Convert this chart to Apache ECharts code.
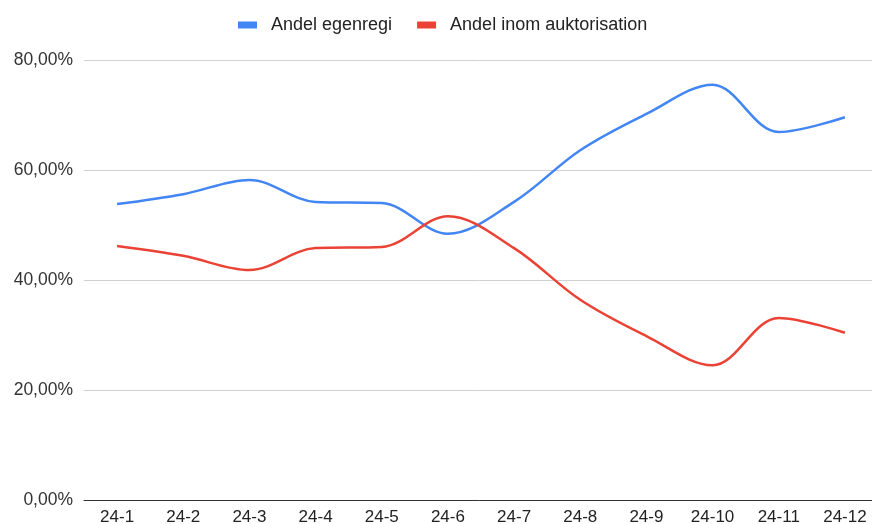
<!DOCTYPE html>
<html>
<head>
<meta charset="utf-8">
<script src="https://cdn.jsdelivr.net/npm/echarts@6/dist/echarts.min.js"></script>
<style>
  html, body { margin: 0; padding: 0; background: #fff; }
  #main { width: 872px; height: 524px; }
</style>
</head>
<body>
<div id="main"></div>
<script>
// månader
const months = ['24-1', '24-2', '24-3', '24-4', '24-5', '24-6', '24-7', '24-8', '24-9', '24-10', '24-11', '24-12'];
// andelar i procent
const egenregi = [53.8, 55.6, 58.2, 54.2, 54.0, 48.4, 54.2, 63.6, 70.2, 75.5, 66.9, 69.6];
const auktorisation = [46.2, 44.4, 41.8, 45.8, 46.0, 51.6, 45.8, 36.4, 29.8, 24.5, 33.1, 30.4];
const seriesNames = ['Andel egenregi', 'Andel inom auktorisation'];

const myChart = echarts.init(document.getElementById('main'));

function pct(v) {
    return v.toFixed(2).replace('.', ',') + '%';
}

const option = {
    animation: false,
    color: ['#4285f4', '#ea4335'],
    textStyle: { fontFamily: '"Liberation Sans", Arial, sans-serif' },
    legend: {
        top: 11,
        left: 233,
        itemWidth: 19,
        itemHeight: 7,
        itemGap: 25,
        icon: 'rect',
        textStyle: { fontSize: 18, color: '#222', padding: [0, 0, 0, 9] },
        data: seriesNames
    },
    grid: {
        top: 60,
        left: 84,
        width: 794,
        bottom: 24,
        containLabel: false,
        outerBoundsMode: 'none'
    },
    xAxis: {
        type: 'category',
        data: months,
        boundaryGap: true,
        axisLine: { show: true, lineStyle: { color: '#333', width: 1 } },
        axisTick: { show: false },
        axisLabel: { fontSize: 17, color: '#222', margin: 9, interval: 0 }
    },
    yAxis: {
        type: 'value',
        min: 0,
        max: 80,
        interval: 20,
        axisLine: { show: false },
        axisTick: { show: false },
        axisLabel: { fontSize: 17.5, color: '#333', margin: 11, formatter: pct },
        splitLine: { lineStyle: { color: '#d0d0d0', width: 1 } }
    },
    series: [{
        name: seriesNames[0],
        type: 'line',
        data: egenregi,
        smooth: 0.35,
        symbol: 'none',
        lineStyle: { width: 2.5 }
    }, {
        name: seriesNames[1],
        type: 'line',
        data: auktorisation,
        smooth: 0.35,
        symbol: 'none',
        lineStyle: { width: 2.5 }
    }]
};
myChart.setOption(option);
</script>
</body>
</html>
